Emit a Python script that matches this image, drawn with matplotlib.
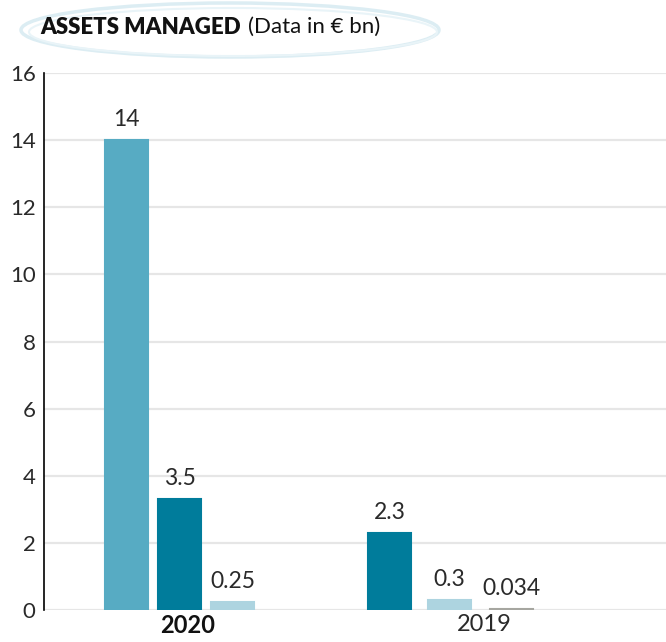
import matplotlib
matplotlib.use('Agg')
import matplotlib.pyplot as plt
from matplotlib.patches import Ellipse

# data
years = ['2020', '2019']
bar_values = [[14, 3.3, 0.25], [2.3, 0.3, 0.034]]
bar_labels = [['14', '3.5', '0.25'], ['2.3', '0.3', '0.034']]
bar_colors = [['#57abc3', '#007c9b', '#add4e0'], ['#007c9b', '#add4e0', '#a6a6a0']]

# layout (x in pixel-like units from the left axis)
bar_x = [[82.5, 135.5, 188.5], [345.5, 405.5, 467.5]]
tick_x = [144, 440]
bar_w = 43

plt.rcParams['font.family'] = ['Lato', 'DejaVu Sans']
txt_color = '#2a2a2a'

fig = plt.figure(figsize=(6.66, 6.42), dpi=100)
ax = fig.add_axes([44/666, 32/642, 622/666, 537/642])

for xs, vals, labs, cols in zip(bar_x, bar_values, bar_labels, bar_colors):
    # thin edge so tiny values stay visible
    ax.bar(xs, vals, width=bar_w, color=cols, edgecolor=cols, linewidth=1.5, zorder=3)
    for x, v, lab in zip(xs, vals, labs):
        ax.text(x, v + 0.3, lab, ha='center', va='bottom', fontsize=16.5,
                fontweight='normal', color=txt_color)

ax.set_xlim(0, 622)
ax.set_ylim(0, 16)
ax.set_yticks(range(0, 17, 2))
ax.set_yticklabels([str(t) for t in range(0, 17, 2)], fontsize=16,
                   fontweight='normal', color=txt_color)
ax.set_xticks(tick_x)
ax.set_xticklabels(years, fontsize=17, color='#111111')
ax.get_xticklabels()[0].set_fontweight('bold')
ax.get_xticklabels()[1].set_fontweight('normal')
ax.get_xticklabels()[1].set_color(txt_color)
ax.tick_params(axis='both', length=0, pad=6)
ax.tick_params(axis='x', pad=3)

ax.grid(axis='y', color='#e6e6e6', linewidth=1.6, zorder=0)
for s in ['top', 'right', 'bottom']:
    ax.spines[s].set_visible(False)
ax.spines['left'].set_color('black')
ax.spines['left'].set_linewidth(1.2)
ax.set_axisbelow(True)

# title with brush-like oval
fig.patches.append(Ellipse((230/666, 1 - 30/642), 418/666, 54/642,
                           transform=fig.transFigure, fill=False,
                           edgecolor='#dcedf3', linewidth=2.5))
fig.patches.append(Ellipse((233/666, 1 - 32/642), 408/666, 48/642,
                           transform=fig.transFigure, fill=False,
                           edgecolor='#e9f4f8', linewidth=1.5))
fig.text(40/666, 1 - 27/642, 'ASSETS MANAGED', fontsize=16, fontweight='heavy',
         color='#111111', va='center', ha='left')
fig.text(248/666, 1 - 27/642, '(Data in € bn)', fontsize=16, fontweight='normal',
         color='#111111', va='center', ha='left')

fig.savefig('out.png', dpi=100)
plt.close()
